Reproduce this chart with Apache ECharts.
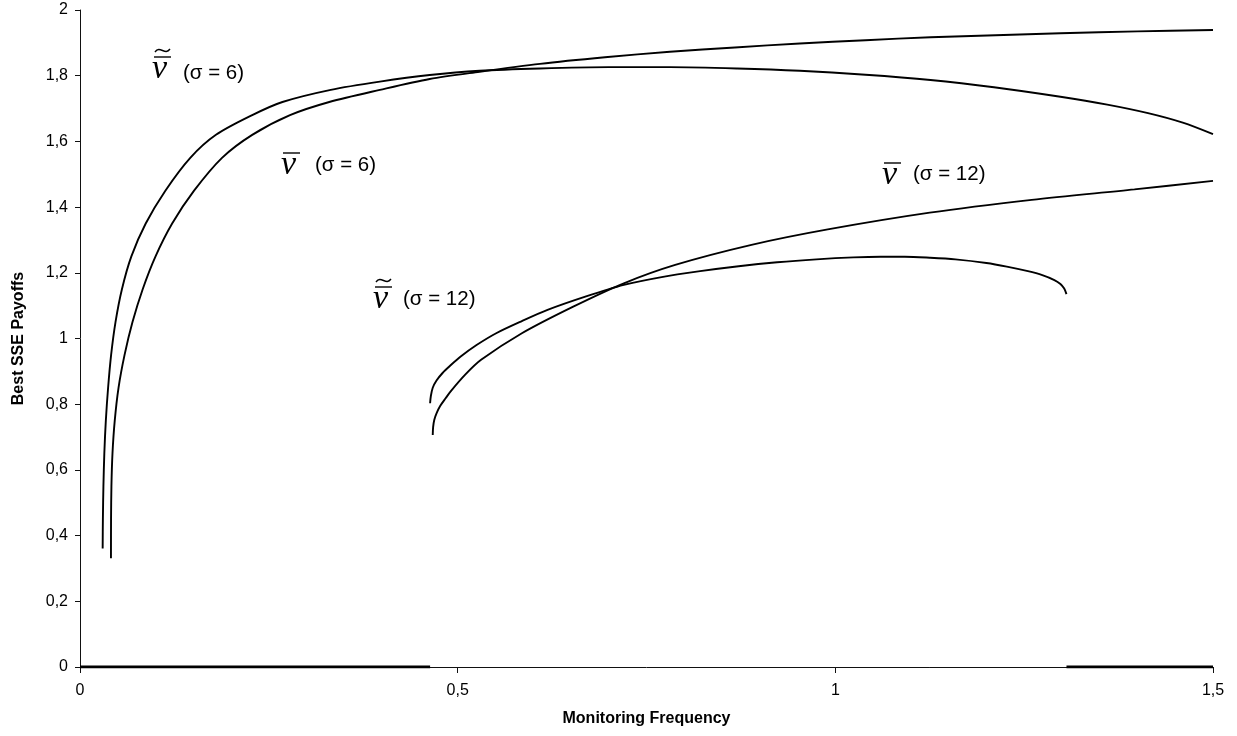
<!DOCTYPE html>
<html>
<head>
<meta charset="utf-8">
<script src="https://cdn.jsdelivr.net/npm/echarts@6/dist/echarts.min.js"></script>
<style>html,body{margin:0;padding:0;background:#fff}#c{width:1237px;height:736px}</style>
</head>
<body>
<div id="c"></div>
<script>
// ---- data ----
const xTicks = [0, 0.5, 1, 1.5];
const yTicks = [0, 0.2, 0.4, 0.6, 0.8, 1, 1.2, 1.4, 1.6, 1.8, 2];

// ṽ̃ (σ = 6)
const tilde6X = [0.0300,0.0303,0.0310,0.0322,0.0342,0.0372,0.0412,0.0470,0.0555,0.0680,0.0870,0.113,0.146,0.180,0.228,0.268,0.332,0.397,0.463,0.529,0.609,0.700,0.781,0.870,0.953,1.040,1.126,1.210,1.298,1.360,1.414,1.460,1.500];
const tilde6Y = [0.361,0.45,0.55,0.65,0.75,0.85,0.95,1.05,1.15,1.25,1.35,1.45,1.55,1.62,1.68,1.72,1.757,1.782,1.802,1.815,1.822,1.826,1.826,1.822,1.815,1.803,1.787,1.765,1.736,1.712,1.686,1.657,1.622];

// v̄ (σ = 6)
const bar6X = [0.0410,0.0411,0.0416,0.0430,0.0460,0.0510,0.0590,0.0695,0.0830,0.100,0.122,0.151,0.188,0.228,0.278,0.330,0.397,0.463,0.529,0.609,0.695,0.781,0.867,0.953,1.040,1.126,1.212,1.298,1.400,1.500];
const bar6Y = [0.331,0.45,0.55,0.65,0.75,0.85,0.95,1.05,1.15,1.25,1.35,1.45,1.55,1.62,1.68,1.72,1.757,1.790,1.812,1.836,1.856,1.873,1.886,1.898,1.908,1.917,1.923,1.929,1.935,1.939];

// ṽ̃ (σ = 12)
const tilde12X = [0.4635,0.4645,0.467,0.472,0.480,0.490,0.504,0.525,0.551,0.585,0.619,0.670,0.720,0.770,0.821,0.872,0.923,0.975,1.024,1.060,1.092,1.125,1.159,1.200,1.227,1.255,1.274,1.290,1.298,1.303,1.306];
const tilde12Y = [0.803,0.825,0.850,0.872,0.895,0.917,0.945,0.98,1.016,1.053,1.087,1.128,1.163,1.187,1.205,1.220,1.232,1.241,1.247,1.249,1.249,1.246,1.241,1.230,1.219,1.205,1.193,1.178,1.166,1.152,1.135];

// v̄ (σ = 12)
const bar12X = [0.467,0.4675,0.469,0.472,0.477,0.484,0.491,0.510,0.531,0.585,0.653,0.720,0.788,0.889,0.990,1.125,1.260,1.396,1.500];
const bar12Y = [0.706,0.730,0.752,0.772,0.795,0.818,0.840,0.890,0.935,1.016,1.097,1.168,1.224,1.285,1.332,1.383,1.422,1.454,1.480];

// ṽ̃ (σ = 12) equals zero outside its feasible range
const zeroLeftX = [0, 0.4635];
const zeroRightX = [1.306, 1.5];
const zeroY = [0, 0];

const pairs = (xs, ys) => xs.map((x, i) => [x, ys[i]]);
const fmt = v => String(parseFloat(Number(v).toFixed(2))).replace('.', ',');

function curve(name, xs, ys, w) {
  return {
    type: 'line', name, data: pairs(xs, ys), showSymbol: false, symbol: 'none',
    smooth: 0.3,
    lineStyle: { color: '#000', width: w || 1.9 }, silent: true, z: 3
  };
}

const chart = echarts.init(document.getElementById('c'), null, { renderer: 'canvas' });

function vLabel(x, y, accent, textX, textY, text) {
  // x : left of the 'v' glyph, y : vertical centre of the 'v'
  const els = [
    { type: 'text', x: x, y: y, style: { text: 'v', font: 'italic 34px "Liberation Serif", "DejaVu Serif", serif', fill: '#000', verticalAlign: 'middle', align: 'left' } },
    { type: 'line', shape: { x1: x + 2, y1: y - 12, x2: x + 19, y2: y - 12 }, style: { stroke: '#000', lineWidth: 1.4 } },
    { type: 'text', x: textX, y: textY, style: { text: text, font: '20.5px "Liberation Sans", Arial, sans-serif', fill: '#000', verticalAlign: 'middle', align: 'left' } }
  ];
  if (accent === 'tilde') {
    els.push({ type: 'bezierCurve', shape: { x1: x + 3, y1: y - 17, cpx1: x + 8, cpy1: y - 24, cpx2: x + 13, cpy2: y - 13, x2: x + 18, y2: y - 20 }, style: { stroke: '#000', lineWidth: 1.4, fill: null } });
  }
  return els;
}

const option = {
  animation: false,
  backgroundColor: '#fff',
  grid: { left: 80, right: 24, top: 10, bottom: 69, containLabel: false },
  xAxis: {
    type: 'value', min: 0, max: 1.5, interval: 0.5,
    name: 'Monitoring Frequency', nameLocation: 'middle', nameGap: 44,
    nameTextStyle: { fontFamily: '"Liberation Sans", Arial, sans-serif', fontWeight: 'bold', fontSize: 16, color: '#000' },
    axisLine: { show: true, lineStyle: { color: '#111', width: 1 } },
    axisTick: { show: true, length: 6, lineStyle: { color: '#111' } },
    axisLabel: { formatter: fmt, margin: 16, fontFamily: '"Liberation Sans", Arial, sans-serif', fontSize: 16, color: '#000' },
    splitLine: { show: false }
  },
  yAxis: {
    type: 'value', min: 0, max: 2, interval: 0.2,
    name: 'Best SSE Payoffs', nameLocation: 'middle', nameGap: 53,
    nameTextStyle: { fontFamily: '"Liberation Sans", Arial, sans-serif', fontWeight: 'bold', fontSize: 16, color: '#000' },
    axisLine: { show: true, lineStyle: { color: '#111', width: 1 } },
    axisTick: { show: true, length: 5, lineStyle: { color: '#111' } },
    axisLabel: { formatter: fmt, margin: 12, fontFamily: '"Liberation Sans", Arial, sans-serif', fontSize: 16, color: '#000' },
    splitLine: { show: false }
  },
  series: [
    curve('tilde6', tilde6X, tilde6Y),
    curve('bar6', bar6X, bar6Y),
    curve('tilde12', tilde12X, tilde12Y),
    curve('bar12', bar12X, bar12Y),
    curve('zeroL', zeroLeftX, zeroY, 3),
    curve('zeroR', zeroRightX, zeroY, 3)
  ],
  graphic: [].concat(
    vLabel(152, 69, 'tilde', 183, 73, '(σ = 6)'),
    vLabel(281, 165, 'bar', 315, 165, '(σ = 6)'),
    vLabel(373, 299, 'tilde', 403, 299, '(σ = 12)'),
    vLabel(882, 175, 'bar', 913, 174, '(σ = 12)')
  )
};
chart.setOption(option);
</script>
</body>
</html>
